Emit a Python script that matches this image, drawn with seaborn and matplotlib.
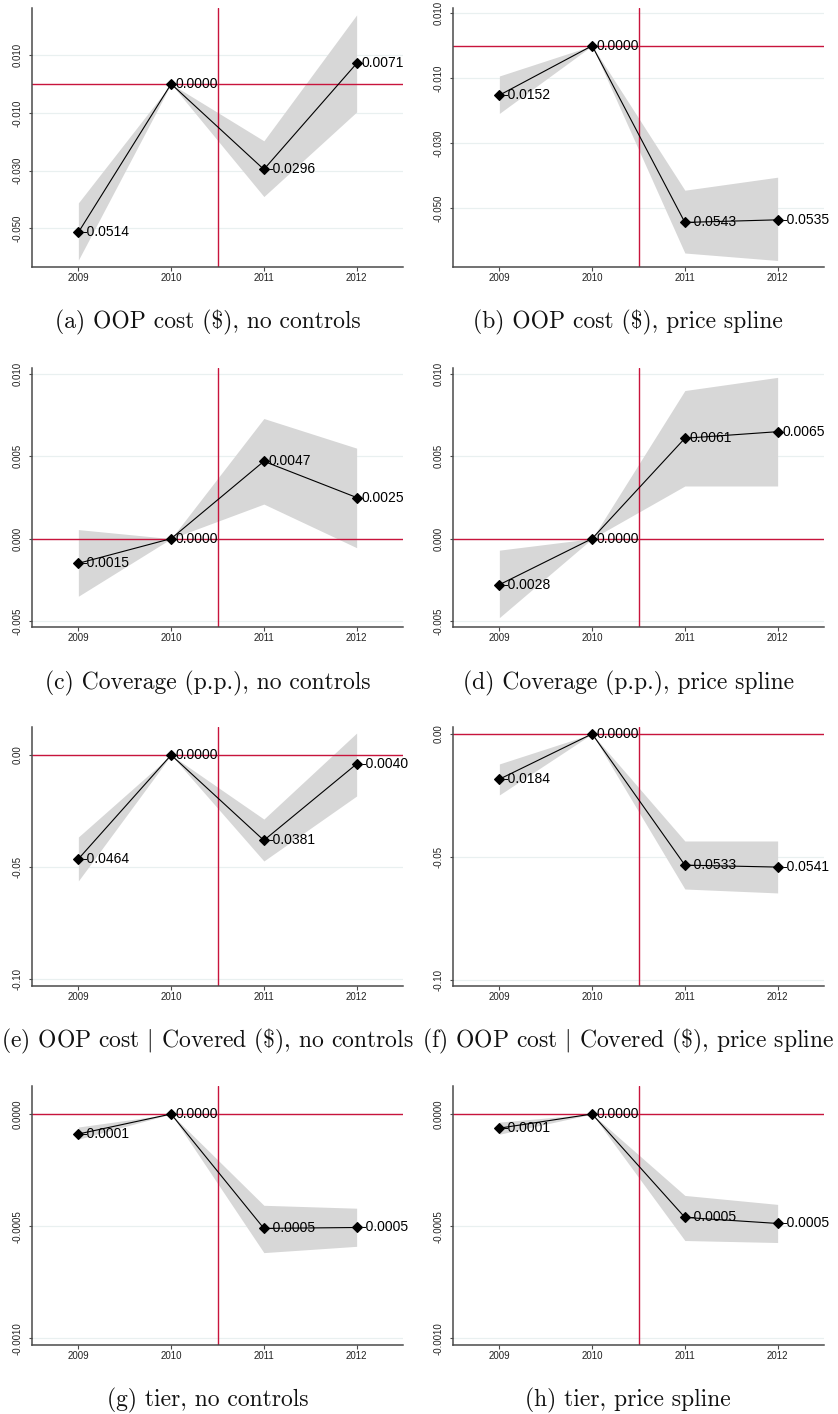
import matplotlib
matplotlib.use("Agg")
import matplotlib.pyplot as plt
import numpy as np
import pandas as pd
import seaborn as sns

# Event-study coefficients (relative to 2010) with 95% confidence bounds
years = [2009, 2010, 2011, 2012]
year_labels = ["2009", "2010", "2011", "2012"]

captions = [
    "(a) OOP cost ($), no controls",
    "(b) OOP cost ($), price spline",
    "(c) Coverage (p.p.), no controls",
    "(d) Coverage (p.p.), price spline",
    r"(e) OOP cost $|$ Covered (\$), no controls",
    r"(f) OOP cost $|$ Covered (\$), price spline",
    "(g) tier, no controls",
    "(h) tier, price spline",
]

coef_a = [-0.0514, 0.0, -0.0296, 0.0071]
lo_a = [-0.0610, 0.0, -0.0390, -0.0097]
hi_a = [-0.0412, 0.0, -0.0197, 0.0239]

coef_b = [-0.0152, 0.0, -0.0543, -0.0535]
lo_b = [-0.0208, 0.0, -0.0637, -0.0660]
hi_b = [-0.0093, 0.0, -0.0444, -0.0404]

coef_c = [-0.0015, 0.0, 0.0047, 0.0025]
lo_c = [-0.0035, 0.0, 0.0021, -0.00055]
hi_c = [0.00055, 0.0, 0.0073, 0.0055]

coef_d = [-0.0028, 0.0, 0.0061, 0.0065]
lo_d = [-0.0048, 0.0, 0.0032, 0.0032]
hi_d = [-0.0007, 0.0, 0.0090, 0.0098]

coef_e = [-0.0464, 0.0, -0.0381, -0.0040]
lo_e = [-0.0562, 0.0, -0.0473, -0.0183]
hi_e = [-0.0366, 0.0, -0.0286, 0.0098]

coef_f = [-0.0184, 0.0, -0.0533, -0.0541]
lo_f = [-0.0248, 0.0, -0.0630, -0.0646]
hi_f = [-0.0122, 0.0, -0.0435, -0.0435]

coef_g = [-0.000089, 0.0, -0.000510, -0.000506]
lo_g = [-0.000112, 0.0, -0.000618, -0.000590]
hi_g = [-0.000058, 0.0, -0.000407, -0.000420]

coef_h = [-0.000063, 0.0, -0.000461, -0.000488]
lo_h = [-0.000090, 0.0, -0.000564, -0.000573]
hi_h = [-0.000036, 0.0, -0.000363, -0.000403]

yticks_ab = [0.010, -0.010, -0.030, -0.050]
ytick_labels_ab = ["0.010", "-0.010", "-0.030", "-0.050"]
yticks_cd = [0.010, 0.005, 0.000, -0.005]
ytick_labels_cd = ["0.010", "0.005", "0.000", "-0.005"]
yticks_ef = [0.00, -0.05, -0.10]
ytick_labels_ef = ["0.00", "-0.05", "-0.10"]
yticks_gh = [0.0, -0.0005, -0.0010]
ytick_labels_gh = ["0.0000", "-0.0005", "-0.0010"]

ylims = [
    (-0.0634, 0.0263), (-0.0680, 0.0116),
    (-0.00537, 0.01037), (-0.00537, 0.01037),
    (-0.1031, 0.0125), (-0.1024, 0.0028),
    (-0.00103, 0.000125), (-0.00103, 0.000125),
]

panels = [
    (coef_a, lo_a, hi_a, yticks_ab, ytick_labels_ab),
    (coef_b, lo_b, hi_b, yticks_ab, ytick_labels_ab),
    (coef_c, lo_c, hi_c, yticks_cd, ytick_labels_cd),
    (coef_d, lo_d, hi_d, yticks_cd, ytick_labels_cd),
    (coef_e, lo_e, hi_e, yticks_ef, ytick_labels_ef),
    (coef_f, lo_f, hi_f, yticks_ef, ytick_labels_ef),
    (coef_g, lo_g, hi_g, yticks_gh, ytick_labels_gh),
    (coef_h, lo_h, hi_h, yticks_gh, ytick_labels_gh),
]

sns.set_theme(style="white")
plt.rcParams["font.family"] = ["Liberation Sans", "DejaVu Sans"]
plt.rcParams["mathtext.fontset"] = "cm"

RED = "#c8143c"
BAND = "#d7d7d7"
GRID = "#e9f0f0"
SPINE = "#4a4a4a"

W, H = 838, 1414
fig = plt.figure(figsize=(W / 100, H / 100), dpi=100)

col_left = [32, 453]
ax_width = 371
row_top = [8, 368, 727, 1086]
ax_height = 259
caption_y = [322, 683, 1041, 1400]
caption_x = [207.5, 628]

for i, (coef, lo, hi, yt, ytl) in enumerate(panels):
    r, c = divmod(i, 2)
    x0 = col_left[c] / W
    y0 = 1 - (row_top[r] + ax_height) / H
    ax = fig.add_axes([x0, y0, ax_width / W, ax_height / H])

    df = pd.DataFrame({"year": years, "coef": coef, "lo": lo, "hi": hi})

    ax.fill_between(df["year"], df["lo"], df["hi"], color=BAND, lw=0, zorder=1)
    ax.axhline(0, color=RED, lw=1.0, zorder=2)
    ax.axvline(2010.5, color=RED, lw=1.0, zorder=2)
    sns.lineplot(data=df, x="year", y="coef", ax=ax, color="black", lw=0.8,
                 marker="D", markersize=5, markeredgecolor="black",
                 markeredgewidth=0.8, zorder=3)

    for x, y in zip(df["year"], df["coef"]):
        ax.annotate(f"{y:.4f}", (x, y), xytext=(3.2, 0), textcoords="offset points",
                    ha="left", va="center", fontsize=10, color="black", zorder=4,
                    annotation_clip=False)

    ax.set_xlim(2008.5, 2012.5)
    ax.set_ylim(*ylims[i])
    ax.set_xticks(years)
    ax.set_xticklabels(year_labels)
    ax.set_yticks(yt)
    ax.set_yticklabels(ytl)
    ax.set_xlabel("")
    ax.set_ylabel("")

    ax.yaxis.grid(True, color=GRID, lw=0.9)
    ax.xaxis.grid(False)
    ax.set_axisbelow(True)

    for side in ("top", "right"):
        ax.spines[side].set_visible(False)
    for side in ("left", "bottom"):
        ax.spines[side].set_color(SPINE)
        ax.spines[side].set_linewidth(1.1)

    ax.tick_params(axis="x", which="major", length=3, width=0.8, color=SPINE,
                   pad=1.5, labelsize=7, labelcolor="#222222", bottom=True)
    ax.tick_params(axis="y", which="major", length=2.5, width=0.8, color=SPINE,
                   pad=4, labelsize=7, labelcolor="#222222", left=True,
                   labelrotation=90)
    for lab in ax.get_yticklabels():
        lab.set_va("center")

    fig.text(caption_x[c] / W, 1 - caption_y[r] / H, captions[i],
             ha="center", va="center", fontsize=17, family="cmr10", color="#111111")

fig.savefig("out.png", dpi=100, facecolor="white")
